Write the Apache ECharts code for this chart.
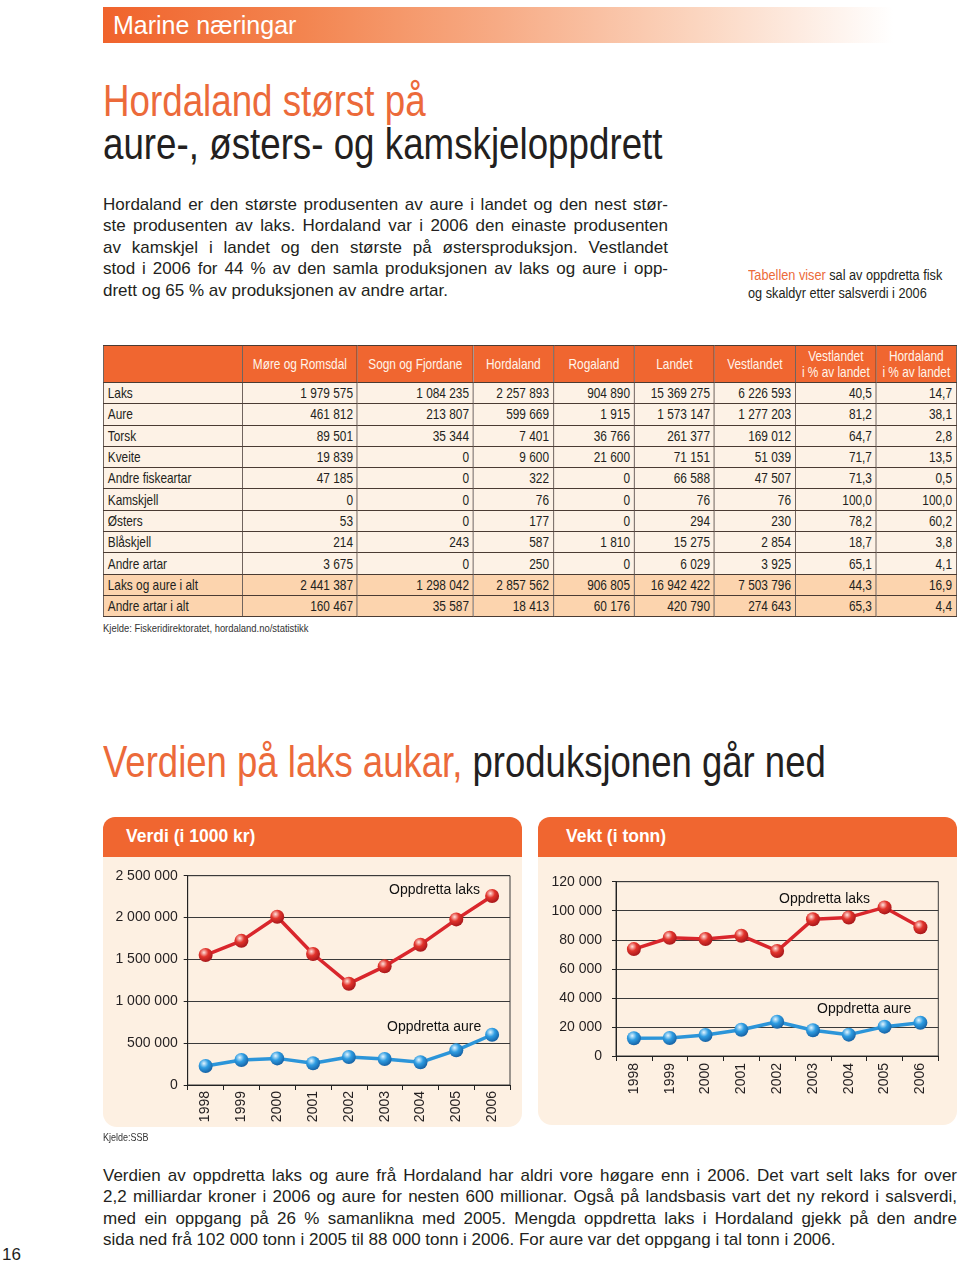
<!DOCTYPE html>
<html>
<head>
<meta charset="utf-8">
<script src="https://cdn.jsdelivr.net/npm/echarts@6/dist/echarts.min.js"></script>
<style>
html,body{margin:0;padding:0;background:#fff;}
body{width:960px;height:1263px;position:relative;overflow:hidden;font-family:"Liberation Sans",Arial,sans-serif;color:#231f20;}
.abs{position:absolute;}
.cond{transform-origin:0 0;white-space:nowrap;}
.topbar{left:103px;top:7px;width:790px;height:36px;background:linear-gradient(to right,#f0632c 0%,#f3844f 25%,#f7ab85 50%,#fbd5bf 75%,#ffffff 100%);}
.topbar span{position:absolute;left:10px;top:4px;font-size:25px;line-height:28px;color:#fff;}
.title{font-size:44px;line-height:44px;white-space:nowrap;}
.orange{color:#ec6a3a;}
.para div{text-align:justify;text-align-last:justify;height:21.4px;line-height:21.4px;}
.para div.last{text-align-last:left;}
.caption{font-size:15.5px;line-height:18px;color:#231f20;transform:scaleX(0.82);}
table.t{position:absolute;left:103px;top:345px;border-collapse:collapse;table-layout:fixed;width:1080px;font-size:15px;transform:scaleX(0.79);transform-origin:0 0;}
table.t td,table.t th{border:1px solid #4a3b33;padding:0 5px;line-height:16px;white-space:nowrap;overflow:hidden;}
table.t th{background:#f06630;color:#fff4ea;font-weight:normal;height:36px;text-align:center;}
table.t td{background:#fdf2e6;height:20.3px;text-align:right;}
table.t td:first-child{text-align:left;}
table.t tr.tot td{background:#fcd4ae;}
.panelh{top:817px;height:40px;background:#f06630;border-radius:12px 12px 0 0;}
.panelh span{position:absolute;top:8px;font-size:17.5px;font-weight:bold;color:#fff;line-height:22px;}
.panelb{top:857px;background:#fdf0e2;border-radius:0 0 14px 14px;}
</style>
</head>
<body>
<div class="abs topbar"><span>Marine næringar</span></div>
<div class="abs title cond orange" style="left:103px;top:79px;transform:scaleX(0.835);">Hordaland størst på</div>
<div class="abs title cond" style="left:103px;top:122px;transform:scaleX(0.835);">aure-, østers- og kamskjeloppdrett</div>

<div class="abs para" style="left:103px;top:194px;width:565px;font-size:17px;">
<div>Hordaland er den største produsenten av aure i landet og den nest stør-</div>
<div>ste produsenten av laks. Hordaland var i 2006 den einaste produsenten</div>
<div>av kamskjel i landet og den største på østersproduksjon. Vestlandet</div>
<div>stod i 2006 for 44 % av den samla produksjonen av laks og aure i opp-</div>
<div class="last">drett og 65 % av produksjonen av andre artar.</div>
</div>

<div class="abs caption cond" style="left:748px;top:266px;">
<div><span class="orange">Tabellen viser</span> sal av oppdretta fisk</div>
<div>og skaldyr etter salsverdi i 2006</div>
</div>

<table class="t" id="tbl"></table>
<div class="abs cond" style="left:103px;top:621px;font-size:11.5px;line-height:14px;color:#333;transform:scaleX(0.82);">Kjelde: Fiskeridirektoratet, hordaland.no/statistikk</div>

<div class="abs title cond" style="left:103px;top:740px;transform:scaleX(0.83);"><span class="orange">Verdien på laks aukar,</span> produksjonen går ned</div>

<div class="abs panelh" style="left:103px;width:419px;"><span style="left:23px;">Verdi (i 1000 kr)</span></div>
<div class="abs panelb" style="left:103px;width:419px;height:270px;"></div>
<div class="abs panelh" style="left:538px;width:419px;"><span style="left:28px;">Vekt (i tonn)</span></div>
<div class="abs panelb" style="left:538px;width:419px;height:268px;"></div>

<div id="chart" class="abs" style="left:0;top:800px;width:960px;height:340px;"></div>

<div class="abs cond" style="left:103px;top:1130px;font-size:11px;line-height:14px;color:#333;transform:scaleX(0.82);">Kjelde:SSB</div>

<div class="abs para" style="left:103px;top:1165px;width:854px;font-size:17px;">
<div>Verdien av oppdretta laks og aure frå Hordaland har aldri vore høgare enn i 2006. Det vart selt laks for over</div>
<div>2,2 milliardar kroner i 2006 og aure for nesten 600 millionar. Også på landsbasis vart det ny rekord i salsverdi,</div>
<div>med ein oppgang på 26 % samanlikna med 2005. Mengda oppdretta laks i Hordaland gjekk på den andre</div>
<div class="last">sida ned frå 102 000 tonn i 2005 til 88 000 tonn i 2006. For aure var det oppgang i tal tonn i 2006.</div>
</div>
<div class="abs" style="left:2px;top:1245px;font-size:17px;line-height:20px;">16</div>

<script>
// ---- Table data ----
const tableHeaders = ['', 'Møre og Romsdal', 'Sogn og Fjordane', 'Hordaland', 'Rogaland', 'Landet', 'Vestlandet', 'Vestlandet<br>i % av landet', 'Hordaland<br>i % av landet'];
const tableRows = ['Laks','Aure','Torsk','Kveite','Andre fiskeartar','Kamskjell','Østers','Blåskjell','Andre artar','Laks og aure i alt','Andre artar i alt'];
const moreRomsdal = [1979575,461812,89501,19839,47185,0,53,214,3675,2441387,160467];
const sognFjordane = [1084235,213807,35344,0,0,0,0,243,0,1298042,35587];
const hordalandV = [2257893,599669,7401,9600,322,76,177,587,250,2857562,18413];
const rogaland = [904890,1915,36766,21600,0,0,0,1810,0,906805,60176];
const landet = [15369275,1573147,261377,71151,66588,76,294,15275,6029,16942422,420790];
const vestlandet = [6226593,1277203,169012,51039,47507,76,230,2854,3925,7503796,274643];
const vestPct = [40.5,81.2,64.7,71.7,71.3,100.0,78.2,18.7,65.1,44.3,65.3];
const hordPct = [14.7,38.1,2.8,13.5,0.5,100.0,60.2,3.8,4.1,16.9,4.4];

// ---- Chart data ----
const years = ['1998','1999','2000','2001','2002','2003','2004','2005','2006'];
const verdiLaks = [1552000,1722000,2010000,1565000,1210000,1417000,1676000,1978000,2258000];
const verdiAure = [227000,298000,318000,259000,334000,310000,271000,414000,600000];
const vektLaks = [73600,81400,80500,82800,72300,94100,95400,102300,88600];
const vektAure = [12200,12400,14500,18100,23600,17700,14700,20200,22900];

function fmt(v){ return String(v).replace(/\B(?=(\d{3})+(?!\d))/g, ' '); }
function pct(v){ return v.toFixed(1).replace('.', ','); }

// build table (laid out wide, then condensed with scaleX)
const colWidths = [175.9,145.6,146.8,101.3,102.5,101.3,102.5,102.5,101.3];
let html = '<colgroup>' + colWidths.map(w => '<col style="width:' + w + 'px">').join('') + '</colgroup>';
html += '<tr>' + tableHeaders.map(h => '<th>' + h + '</th>').join('') + '</tr>';
tableRows.forEach((name, i) => {
  const cls = i >= 9 ? ' class="tot"' : '';
  html += '<tr' + cls + '><td>' + name + '</td>' +
    [moreRomsdal[i], sognFjordane[i], hordalandV[i], rogaland[i], landet[i], vestlandet[i]].map(v => '<td>' + fmt(v) + '</td>').join('') +
    '<td>' + pct(vestPct[i]) + '</td><td>' + pct(hordPct[i]) + '</td></tr>';
});
document.getElementById('tbl').innerHTML = html;

// charts
const chart = echarts.init(document.getElementById('chart'), null, {renderer: 'canvas'});
const txt = '#231f20';
function ball(c0, c1, c2){
  return {type:'radial', x:0.38, y:0.32, r:0.7, colorStops:[{offset:0,color:c0},{offset:0.45,color:c1},{offset:1,color:c2}]};
}
const redBall = ball('#ffe2dc', '#e2342c', '#a5161a');
const blueBall = ball('#e2f5ff', '#2f9de2', '#1560a3');
const grids = [
  {left:187.7, top:75.7, width:322.3, height:209.3, show:true, borderColor:'#3a3a3a', borderWidth:1},
  {left:616, top:81.7, width:322.3, height:174.3, show:true, borderColor:'#3a3a3a', borderWidth:1}
];
function xAxis(i, margin){
  return {type:'category', gridIndex:i, data:years, boundaryGap:true,
    axisLine:{lineStyle:{color:'#222', width:1}},
    axisTick:{show:true, length:5, lineStyle:{color:'#222'}},
    axisLabel:{rotate:90, fontSize:14, color:txt, margin:margin, fontFamily:'Liberation Sans'}};
}
function yAxis(i, max, interval, margin){
  return {type:'value', gridIndex:i, min:0, max:max, interval:interval,
    axisLine:{show:true, lineStyle:{color:'#222'}},
    axisTick:{show:true, length:4, lineStyle:{color:'#222'}},
    splitLine:{show:true, lineStyle:{color:'#3a3a3a', width:1}},
    axisLabel:{fontSize:14, color:txt, margin:margin, fontFamily:'Liberation Sans', formatter:v => fmt(v)}};
}
function line(i, data, color, ballc){
  return {type:'line', xAxisIndex:i, yAxisIndex:i, data:data, symbol:'circle', symbolSize:14,
    lineStyle:{color:color, width:3.5}, itemStyle:{color:ballc}, z:3};
}
function label(x, y, t){
  return {type:'text', left:x, top:y, style:{text:t, fontSize:14, fill:'#111', fontFamily:'Liberation Sans', textVerticalAlign:'top'}};
}
chart.setOption({
  animation:false,
  grid:grids,
  xAxis:[xAxis(0,6), xAxis(1,7)],
  yAxis:[yAxis(0,2500000,500000,10), yAxis(1,120000,20000,14)],
  series:[
    line(0, verdiLaks, '#d9262c', redBall),
    line(0, verdiAure, '#2c95d9', blueBall),
    line(1, vektLaks, '#d9262c', redBall),
    line(1, vektAure, '#2c95d9', blueBall)
  ],
  graphic:[
    label(389, 83.5, 'Oppdretta laks'),
    label(387, 220, 'Oppdretta aure'),
    label(779, 92, 'Oppdretta laks'),
    label(817, 202, 'Oppdretta aure')
  ]
});
</script>
</body>
</html>
